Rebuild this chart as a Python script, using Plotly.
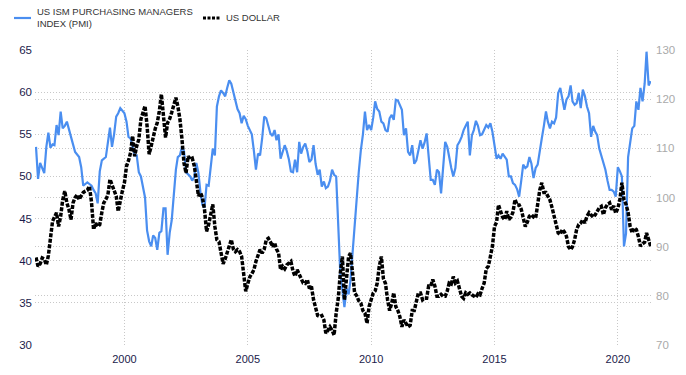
import pandas as pd
import plotly.graph_objects as go

start_month = "1996-06-01"

pmi = [
    # 1996 Jun-Dec
    53.5, 49.7, 51.6, 51.0, 50.4, 53.5, 55.2,
    # 1997
    53.4, 53.8, 53.7, 56.1, 54.9, 57.7, 55.7, 56.0, 56.5, 55.5, 54.7, 53.8,
    # 1998
    52.9, 52.5, 52.3, 51.1, 48.9, 49.1, 49.3, 49.1, 48.9, 48.4, 48.0, 46.8,
    # 1999
    50.6, 51.9, 52.1, 52.3, 54.0, 55.8, 53.5, 55.0, 57.1, 57.5, 58.1, 57.8,
    # 2000
    57.5, 56.5, 54.7, 54.5, 53.5, 52.5, 52.5, 50.5, 50.0, 48.6, 47.5, 43.6,
    # 2001
    42.3, 41.7, 43.0, 42.7, 41.3, 43.3, 43.5, 46.2, 46.2, 40.7, 43.3, 44.8,
    # 2002
    48.4, 50.8, 52.3, 52.5, 53.5, 53.0, 50.5, 50.3, 50.0, 49.5, 50.0, 51.6,
    # 2003
    50.4, 48.0, 46.6, 46.3, 49.0, 48.9, 51.0, 53.3, 52.5, 58.3, 59.5, 60.2,
    # 2004
    59.9, 59.5, 60.5, 61.4, 61.0, 59.9, 59.0, 58.0, 57.5, 56.3, 57.2, 56.8,
    # 2005
    56.0, 55.5, 55.0, 53.0, 50.8, 52.7, 52.5, 54.5, 57.1, 56.9, 56.0, 55.1,
    # 2006
    54.8, 55.5, 54.3, 55.0, 52.1, 53.0, 53.7, 53.0, 52.0, 50.6, 50.5, 52.0,
    # 2007
    50.5, 54.1, 52.7, 53.5, 53.9, 53.0, 51.7, 52.0, 53.7, 51.5, 50.2, 50.8,
    # 2008
    48.8, 49.4, 48.6, 48.8, 49.5, 50.8, 50.2, 50.0, 44.8, 38.5, 36.5, 34.5,
    # 2009
    36.7, 36.0, 37.7, 41.0, 44.8, 47.6, 50.5, 53.1, 55.0, 57.7, 55.5, 56.1,
    # 2010
    55.5, 57.0, 58.9, 58.0, 57.7, 56.5, 56.3, 55.5, 55.3, 56.9, 57.3, 56.7,
    # 2011
    59.1, 59.0, 58.5, 57.9, 54.9, 55.7, 52.9, 52.5, 53.7, 51.5, 51.9, 53.0,
    # 2012
    54.3, 53.3, 54.0, 55.1, 52.7, 49.6, 49.6, 49.0, 50.8, 50.5, 48.0, 51.4,
    # 2013
    54.1, 53.5, 52.1, 51.0, 50.0, 51.0, 53.7, 54.1, 54.7, 55.5, 56.0, 56.5,
    # 2014
    52.5, 54.9, 55.5, 56.6, 56.0, 54.9, 55.0, 55.5, 56.1, 55.8, 56.3, 55.3,
    # 2015
    53.7, 52.1, 52.5, 52.1, 52.7, 52.3, 52.0, 50.0, 50.0, 49.2, 49.0, 48.5,
    # 2016
    47.6, 49.5, 51.4, 51.0, 51.2, 52.3, 51.5, 49.8, 51.0, 51.4, 53.3, 54.5,
    # 2017
    56.0, 57.7, 56.5, 55.7, 56.5, 56.3, 57.0, 59.9, 60.5, 59.1, 57.9, 59.1,
    # 2018
    59.5, 60.8, 58.9, 58.5, 58.7, 59.9, 58.1, 60.3, 59.5, 58.3, 57.5, 54.7,
    # 2019
    56.0, 55.3, 54.9, 53.3, 52.5, 51.7, 50.8, 49.5, 48.4, 48.4, 48.2, 47.6,
    # 2020
    51.1, 50.6, 50.0, 41.7, 43.2, 52.3, 53.9, 55.7, 56.0, 58.9, 57.9, 60.5,
    # 2021 Jan-May
    58.9, 61.0, 64.8, 60.8, 61.3,
]

usd = [
    # 1996 Jun-Dec
    87.8, 86.0, 86.5, 87.7, 87.5, 86.3, 88.2,
    # 1997
    91.4, 95.2, 96.0, 96.9, 94.1, 96.2, 99.5, 101.3, 98.9, 97.6, 95.5, 98.9,
    # 1998
    100.0, 100.6, 99.6, 100.5, 101.0, 101.3, 101.5, 102.3, 99.0, 93.5, 94.8, 94.1,
    # 1999
    94.5, 97.0, 98.9, 99.6, 100.5, 103.7, 102.5, 101.0, 100.3, 97.2, 99.5, 101.3,
    # 2000
    103.0, 106.4, 107.5, 109.1, 112.5, 108.4, 110.5, 111.8, 115.9, 117.5, 118.6, 114.6,
    # 2001
    108.8, 110.5, 112.5, 114.0, 115.2, 117.6, 121.0, 117.3, 112.2, 115.2, 116.0, 117.3,
    # 2002
    119.0, 120.3, 118.6, 116.0, 112.0, 107.0, 105.0, 108.4, 107.8, 108.0, 106.4, 103.7,
    # 2003
    100.3, 101.0, 100.0, 97.5, 93.1, 94.5, 96.2, 98.6, 94.1, 91.4, 91.0, 89.0,
    # 2004
    86.5, 87.5, 88.7, 90.0, 91.4, 89.5, 89.0, 89.4, 89.0, 88.0, 84.0, 80.9,
    # 2005
    82.5, 83.9, 84.5, 85.3, 87.0, 88.5, 89.4, 88.7, 89.5, 91.4, 91.7, 91.0,
    # 2006
    90.0, 90.8, 89.5, 88.7, 85.3, 86.0, 85.5, 86.3, 86.7, 87.0, 85.0, 84.0,
    # 2007
    85.3, 84.5, 83.6, 82.6, 82.5, 83.3, 81.5, 81.9, 79.2, 77.8, 76.0, 75.8,
    # 2008
    76.0, 75.1, 72.4, 73.0, 73.7, 73.0, 72.0, 76.5, 79.5, 84.6, 88.0, 79.2,
    # 2009
    84.6, 88.0, 88.7, 85.0, 80.6, 80.0, 79.0, 78.5, 77.0, 76.5, 74.4, 77.8,
    # 2010
    79.0, 80.6, 81.0, 82.6, 86.0, 88.0, 83.5, 82.5, 79.2, 77.0, 78.5, 80.6,
    # 2011
    77.8, 77.0, 75.8, 73.7, 75.1, 74.5, 73.7, 74.0, 77.0, 77.0, 78.5, 80.6,
    # 2012
    80.6, 79.2, 79.5, 79.5, 82.0, 82.0, 83.3, 82.0, 79.9, 79.9, 80.3, 79.9,
    # 2013
    79.9, 81.0, 82.6, 82.4, 83.9, 82.6, 83.0, 81.5, 79.9, 79.5, 80.6, 80.3,
    # 2014
    80.6, 80.2, 79.9, 79.7, 80.4, 80.2, 81.5, 82.6, 85.5, 86.0, 88.0, 90.1,
    # 2015
    94.1, 95.0, 98.5, 97.0, 96.0, 95.5, 97.2, 95.5, 96.0, 97.0, 99.6, 98.5,
    # 2016
    98.5, 97.6, 95.5, 94.1, 95.0, 96.2, 96.5, 96.0, 95.8, 98.5, 101.5, 103.0,
    # 2017
    101.0, 101.0, 100.3, 99.5, 98.0, 96.0, 94.0, 92.8, 92.5, 93.5, 93.0, 92.1,
    # 2018
    90.0, 89.4, 90.0, 91.4, 93.5, 94.5, 94.8, 95.5, 94.8, 96.2, 96.9, 96.5,
    # 2019
    96.0, 96.5, 97.2, 97.9, 98.2, 96.5, 97.9, 98.6, 98.9, 97.5, 98.3, 96.8,
    # 2020
    97.8, 99.6, 103.0, 99.6, 98.6, 97.0, 94.1, 92.8, 93.8, 93.5, 92.0, 90.1,
    # 2021 Jan-May
    90.6, 90.9, 92.8, 91.3, 90.1,
]

pmi_name = "US ISM PURCHASING MANAGERS<br>INDEX (PMI)"
usd_name = "US DOLLAR"

pmi_color = "#4a8ef0"
usd_color = "#000000"
usd_dash = "4px,1.5px"

dates = pd.date_range(start=start_month, periods=len(pmi), freq="MS")

fig = go.Figure()
fig.add_trace(go.Scatter(
    x=dates, y=pmi, name=pmi_name, mode="lines",
    line=dict(color=pmi_color, width=2.2),
    yaxis="y", showlegend=False,
))
fig.add_trace(go.Scatter(
    x=dates, y=usd, name=usd_name, mode="lines",
    line=dict(color=usd_color, width=3.5, dash=usd_dash),
    yaxis="y2", showlegend=False,
))

grid = dict(showgrid=True, gridcolor="#c8c8c8", griddash="1px,2px", gridwidth=1,
            zeroline=False, showline=False, ticks="", ticklen=0, automargin=False)

# legend drawn in paper coordinates (plot area: x 35..651 px, y 50..345 px)
W_PLOT, H_PLOT, L, T = 616, 295, 35, 50
def px(xp):
    return (xp - L) / W_PLOT
def py(yp):
    return (T + H_PLOT - yp) / H_PLOT

legend_font = dict(size=9.5, color="#333333", family="Liberation Sans, Arial, sans-serif")
shapes = [
    dict(type="line", xref="paper", yref="paper", x0=px(14), x1=px(31), y0=py(18), y1=py(18),
         line=dict(color=pmi_color, width=2.2)),
    dict(type="line", xref="paper", yref="paper", x0=px(203), x1=px(220), y0=py(18), y1=py(18),
         line=dict(color=usd_color, width=3, dash="3px,1.5px")),
]
annotations = [
    dict(xref="paper", yref="paper", x=px(35), y=py(18), text=pmi_name, showarrow=False,
         xanchor="left", yanchor="middle", align="left", font=legend_font),
    dict(xref="paper", yref="paper", x=px(224), y=py(18), text=usd_name, showarrow=False,
         xanchor="left", yanchor="middle", align="left", font=legend_font),
]

fig.update_layout(
    width=686, height=375,
    margin=dict(l=L, r=686 - L - W_PLOT, t=T, b=375 - T - H_PLOT, autoexpand=False),
    paper_bgcolor="white", plot_bgcolor="white",
    font=dict(family="Liberation Sans, Arial, sans-serif", size=11, color="#1b1b4b"),
    showlegend=False,
    shapes=shapes,
    annotations=annotations,
    xaxis=dict(
        type="date", range=["1996-05-17", "2021-05-06"],
        tick0="2000-01-01", dtick="M60", tickformat="%Y",
        tickfont=dict(size=11, color="#1b1b4b"), ticklabelstandoff=6, **grid,
    ),
    yaxis=dict(
        range=[30, 65], dtick=5, tickfont=dict(size=11.5, color="#1b1b4b"),
        ticklabelstandoff=2, **grid,
    ),
    yaxis2=dict(
        range=[70, 130], dtick=10, overlaying="y", side="right",
        tickfont=dict(size=11.5, color="#aaaaaa"), ticklabelstandoff=4, **grid,
    ),
)

fig.write_html("out.html", config={"displayModeBar": False},
               post_script="document.body.style.margin='0';")
